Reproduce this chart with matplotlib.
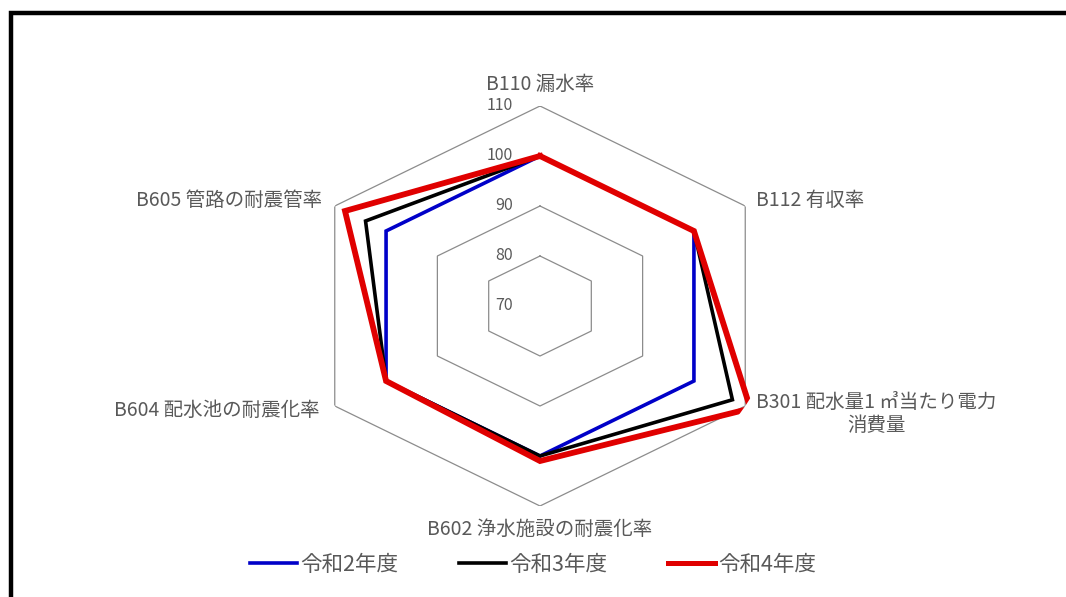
import numpy as np
import matplotlib
matplotlib.use("Agg")
import matplotlib.pyplot as plt
from matplotlib.lines import Line2D

plt.rcParams['font.family'] = ['Noto Sans CJK JP', 'DejaVu Sans']

categories = ["B110 漏水率", "B112 有収率", "B301 配水量1 ㎥当たり電力\n消費量",
              "B602 浄水施設の耐震化率", "B604 配水池の耐震化率", "B605 管路の耐震管率"]
series_names = ["令和2年度", "令和3年度", "令和4年度"]
r2_values = [100, 100, 100, 100, 100, 100]
r3_values = [100, 100, 107.5, 100, 100, 104]
r4_values = [100, 100, 111, 101, 100, 108]
ring_values = [70, 80, 90, 100, 110]

colors = ["#0000C8", "#000000", "#E00000"]
widths = [2.6, 2.6, 4.2]
text_color = "#595959"
grid_color = "#8C8C8C"

W, H = 1066, 597
fig = plt.figure(figsize=(W / 100, H / 100), dpi=100)
fig.patch.set_facecolor("white")

# axes box in pixels (centre 540,306; vertical radius 200; horizontal radius 237)
cx, cy, ry, rx = 540, 306, 200, 237
ax = fig.add_axes([(cx - rx) / W, (H - cy - ry) / H, 2 * rx / W, 2 * ry / H],
                  projection="polar")
ax.set_aspect("auto")
ax.set_theta_offset(np.pi / 2)
ax.set_theta_direction(-1)
ax.set_ylim(ring_values[0], ring_values[-1])
ax.grid(False)
ax.spines["polar"].set_visible(False)
ax.set_xticks([])
ax.set_yticks([])
ax.patch.set_alpha(0)

n = len(categories)
theta = np.linspace(0, 2 * np.pi, n, endpoint=False)
theta_c = np.append(theta, theta[0])

# hexagonal grid rings
for rv in ring_values[1:]:
    ax.plot(theta_c, [rv] * (n + 1), color=grid_color, lw=0.9, zorder=1)

# ring labels
for rv in ring_values:
    ax.annotate(str(rv), xy=(0, rv), xytext=(-27, 0), textcoords="offset pixels",
                ha="right", va="center", fontsize=11.5, color=text_color,
                annotation_clip=False)

# data series
for vals, name, c, lw, z in zip([r2_values, r3_values, r4_values], series_names,
                                colors, widths, [3, 4, 5]):
    v = list(vals) + [vals[0]]
    ax.plot(theta_c, v, color=c, lw=lw, label=name, zorder=z,
            solid_joinstyle="miter")

# category labels
offsets = [((0, 22), "center", "center"),
           ((11, 6), "left", "center"),
           ((11, -8), "left", "center"),
           ((0, -23), "center", "center"),
           ((-15, -4), "right", "center"),
           ((-13, 6), "right", "center")]
for i, (lab, (off, ha, va)) in enumerate(zip(categories, offsets)):
    ax.annotate(lab, xy=(theta[i], ring_values[-1]), xytext=off,
                textcoords="offset pixels", ha=ha, va=va, fontsize=14,
                color=text_color, multialignment="center", annotation_clip=False,
                linespacing=1.15)

# legend
handles = [Line2D([], [], color=c, lw=lw) for c, lw in zip(colors, [2.6, 2.6, 3.6])]
leg = fig.legend(handles, series_names, loc="center", bbox_to_anchor=(0.5, 1 - 565 / H),
                 ncol=3, frameon=False, fontsize=15.5, handlelength=2.2,
                 handletextpad=0.15, columnspacing=2.8, labelcolor=text_color)

# outer frame (top and left edges)
fig.add_artist(Line2D([11 / W, 11 / W, 1.0], [0.0, 1 - 13 / H, 1 - 13 / H],
                      transform=fig.transFigure, color="black", lw=3.2,
                      solid_joinstyle="miter"))

fig.savefig("out.png", dpi=100, facecolor="white")
